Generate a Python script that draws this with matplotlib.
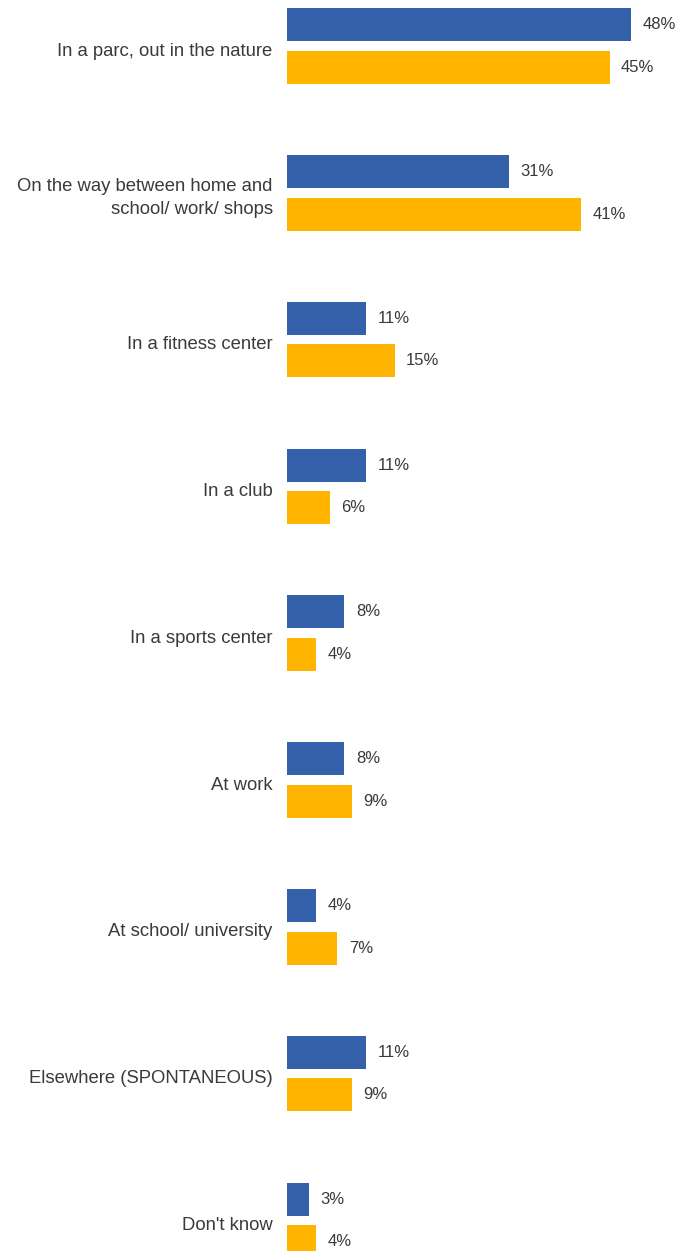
import numpy as np
import matplotlib.pyplot as plt

categories = [
    "In a parc, out in the nature",
    "On the way between home and\nschool/ work/ shops",
    "In a fitness center",
    "In a club",
    "In a sports center",
    "At work",
    "At school/ university",
    "Elsewhere (SPONTANEOUS)",
    "Don't know",
]
blue_vals = [48, 31, 11, 11, 8, 8, 4, 11, 3]
orange_vals = [45, 41, 15, 6, 4, 9, 7, 9, 4]

blue = "#3561AA"
orange = "#FFB400"
txt = "#3a3a3a"

plt.rcParams['font.family'] = ['Liberation Sans Narrow', 'Liberation Sans', 'DejaVu Sans']

fig = plt.figure(figsize=(6.92, 12.51), dpi=100)
ax = fig.add_axes([287 / 692, 0, 1 - 287 / 692, 1])

y = np.arange(len(categories))
off = 0.145
h = 0.225
ax.barh(y - off, blue_vals, height=h, color=blue)
ax.barh(y + off, orange_vals, height=h, color=orange)

for yi, v in zip(y, blue_vals):
    ax.text(v + 1.6, yi - off, f"{v}%", va="center", ha="left", fontsize=12, color=txt)
for yi, v in zip(y, orange_vals):
    ax.text(v + 1.6, yi + off, f"{v}%", va="center", ha="left", fontsize=12, color=txt)

for yi, c in zip(y, categories):
    ax.text(-2.0, yi + 0.035, c, va="center", ha="right", fontsize=13.3, color=txt,
            linespacing=1.5)

ax.set_xlim(0, 405 / 7.17)
ax.set_ylim(8.208, -0.313)
ax.axis("off")

fig.savefig("out.png", dpi=100)
